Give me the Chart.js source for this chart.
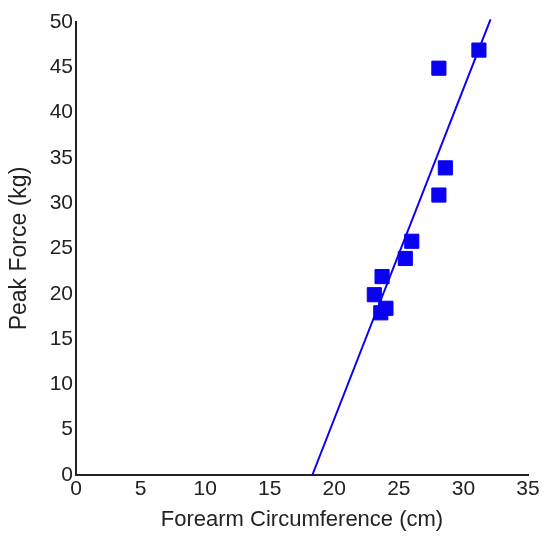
<!DOCTYPE html>
<html>
<head>
<meta charset="utf-8">
<script src="https://cdn.jsdelivr.net/npm/chart.js@4/dist/chart.umd.min.js"></script>
<style>
  html, body { margin: 0; padding: 0; background: #fff; }
  #wrap { width: 544px; height: 538px; }
</style>
</head>
<body>
<div id="wrap"><canvas id="c" width="544" height="538"></canvas></div>
<script>
const circumference = [31.2, 28.1, 28.6, 28.1, 26.0, 25.5, 23.7, 23.1, 23.6, 24.0];
const peakForce     = [46.9, 44.9, 33.9, 30.9, 25.8, 23.9, 21.9, 19.9, 17.9, 18.4];
const fitLineX = [18.3, 32.1];
const fitLineY = [0, 50.3];
const xTicks = [0, 5, 10, 15, 20, 25, 30, 35];
const yTicks = [0, 5, 10, 15, 20, 25, 30, 35, 40, 45, 50];

const blue = '#0a00f2';
const family = '"Liberation Sans", Arial, Helvetica, sans-serif';
const tickFont = { family, size: 21 };

new Chart(document.getElementById('c'), {
  type: 'scatter',
  data: {
    datasets: [
      {
        label: 'Data',
        data: circumference.map((x, i) => ({ x, y: peakForce[i] })),
        pointStyle: 'rect',
        pointRadius: 10,
        backgroundColor: blue,
        borderColor: blue,
        borderWidth: 1
      },
      {
        label: 'Fit',
        type: 'line',
        data: fitLineX.map((x, i) => ({ x, y: fitLineY[i] })),
        borderColor: blue,
        borderWidth: 2,
        pointRadius: 0,
        fill: false,
        clip: false
      }
    ]
  },
  options: {
    responsive: false,
    animation: false,
    layout: { padding: { top: 22, right: 16, left: 0, bottom: 0 } },
    plugins: { legend: { display: false }, tooltip: { enabled: false } },
    scales: {
      x: {
        type: 'linear', min: 0, max: 35,
        afterBuildTicks: s => { s.ticks = xTicks.map(v => ({ value: v })); },
        afterFit: s => { s.height = 63; },
        grid: { display: false, drawTicks: false },
        border: { display: true, color: '#222', width: 2 },
        ticks: { color: '#222', font: tickFont, padding: 2, maxRotation: 0 },
        title: { display: true, text: 'Forearm Circumference (cm)', color: '#222', font: { family, size: 22 }, padding: { top: 0, bottom: 5 } }
      },
      y: {
        type: 'linear', min: 0, max: 50,
        afterBuildTicks: s => { s.ticks = yTicks.map(v => ({ value: v })); },
        afterFit: s => { s.width = 76; },
        grid: { display: false, drawTicks: false },
        border: { display: true, color: '#222', width: 2 },
        ticks: { color: '#222', font: tickFont, padding: 3 },
        title: { display: true, text: 'Peak Force (kg)', color: '#222', font: { family, size: 23 }, padding: { top: 6, bottom: 0 } }
      }
    }
  }
});
</script>
</body>
</html>
